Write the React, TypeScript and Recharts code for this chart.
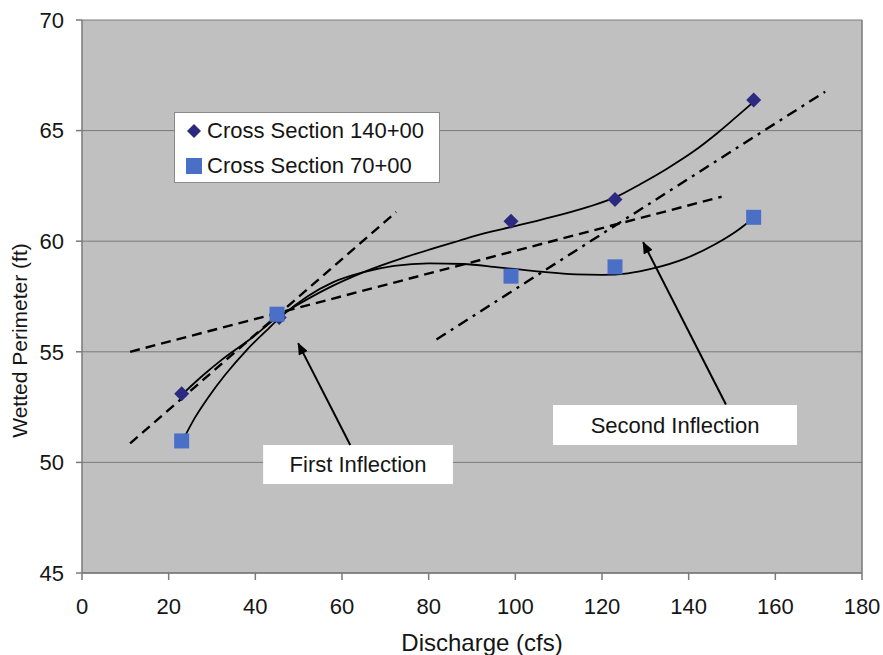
import React from 'react';
import {
  ComposedChart,
  XAxis,
  YAxis,
  CartesianGrid,
  Scatter,
  Line,
  ReferenceArea,
  ReferenceLine,
  Legend,
  Label,
} from 'recharts';

const FONT = '"Liberation Sans", Arial, Helvetica, sans-serif';

// ---- tick labels ----
const xTicks = [0, 20, 40, 60, 80, 100, 120, 140, 160, 180];
const yTicks = [45, 50, 55, 60, 65, 70];

// ---- series names ----
const name140 = 'Cross Section 140+00';
const name70 = 'Cross Section 70+00';

// ---- measured points ----
const section140 = [
  { x: 23, y: 53.1 },
  { x: 45.5, y: 56.55 },
  { x: 99, y: 60.9 },
  { x: 123, y: 61.88 },
  { x: 155, y: 66.38 },
];
const section70 = [
  { x: 23, y: 50.97 },
  { x: 45, y: 56.7 },
  { x: 99, y: 58.42 },
  { x: 123, y: 58.84 },
  { x: 155, y: 61.08 },
];

// ---- trend curves ----
const trend140 = [
  { x: 23.8, y: 53.2 },
  { x: 28, y: 53.95 },
  { x: 32, y: 54.6 },
  { x: 39, y: 55.6 },
  { x: 45, y: 56.55 },
  { x: 50, y: 57.15 },
  { x: 56, y: 57.8 },
  { x: 65, y: 58.6 },
  { x: 75, y: 59.3 },
  { x: 87, y: 60.02 },
  { x: 93, y: 60.36 },
  { x: 99, y: 60.64 },
  { x: 105, y: 60.92 },
  { x: 111, y: 61.22 },
  { x: 117, y: 61.56 },
  { x: 123, y: 61.98 },
  { x: 129, y: 62.6 },
  { x: 135, y: 63.28 },
  { x: 141, y: 64.04 },
  { x: 147, y: 64.95 },
  { x: 151, y: 65.62 },
  { x: 155, y: 66.3 },
];
const trend70 = [
  { x: 23.4, y: 51.05 },
  { x: 26, y: 52.0 },
  { x: 29, y: 52.9 },
  { x: 33, y: 53.95 },
  { x: 38, y: 55.08 },
  { x: 42.5, y: 55.95 },
  { x: 46, y: 56.6 },
  { x: 52, y: 57.5 },
  { x: 58, y: 58.15 },
  { x: 65, y: 58.6 },
  { x: 72, y: 58.88 },
  { x: 80, y: 59.0 },
  { x: 88, y: 58.97 },
  { x: 96, y: 58.82 },
  { x: 105, y: 58.64 },
  { x: 114, y: 58.5 },
  { x: 120, y: 58.48 },
  { x: 126, y: 58.55 },
  { x: 132, y: 58.78 },
  { x: 139, y: 59.2 },
  { x: 146, y: 59.85 },
  { x: 151, y: 60.45 },
  { x: 155, y: 61.05 },
];

// ---- tangent lines ----
const tangentSteep = [
  { x: 11.1, y: 50.86 },
  { x: 72.5, y: 61.32 },
];
const tangentShallow = [
  { x: 11.1, y: 55.0 },
  { x: 147.6, y: 62.01 },
];
const tangentSecond = [
  { x: 81.8, y: 55.56 },
  { x: 171.5, y: 66.76 },
];

// ---- annotation arrows (tail -> tip) ----
const arrowFirst = [
  { x: 61.9, y: 50.79 },
  { x: 49.9, y: 55.38 },
];
const arrowSecond = [
  { x: 148.6, y: 52.62 },
  { x: 129.5, y: 59.95 },
];

// ---- annotation boxes ----
const boxFirst = { text: 'First Inflection', x1: 41.8, x2: 85.6, y1: 49.02, y2: 50.79 };
const boxSecond = { text: 'Second Inflection', x1: 108.7, x2: 165.0, y1: 50.79, y2: 52.6 };

const NAVY = '#2a2a80';
const BLUE = '#4a6fc6';
const GRID = '#7a7a7a';
const TEXT = '#151515';

function DiamondShape(props: any) {
  const { cx, cy } = props;
  if (cx == null || cy == null) return null;
  const r = 7.5;
  return (
    <path
      d={`M${cx},${cy - r}L${cx + r},${cy}L${cx},${cy + r}L${cx - r},${cy}Z`}
      fill={NAVY}
    />
  );
}

function SquareShape(props: any) {
  const { cx, cy } = props;
  if (cx == null || cy == null) return null;
  const s = 15;
  return <rect x={cx - s / 2} y={cy - s / 2} width={s} height={s} fill={BLUE} />;
}

function LegendBox() {
  const row: React.CSSProperties = {
    display: 'flex',
    alignItems: 'center',
    height: 35,
    fontSize: 22,
    color: TEXT,
    fontFamily: FONT,
    whiteSpace: 'nowrap',
  };
  return (
    <div
      style={{
        background: '#fff',
        border: '1px solid #8a8a8a',
        boxSizing: 'border-box',
        width: 266,
        height: 71,
        paddingTop: 0,
      }}
    >
      <div style={row}>
        <svg width={32} height={20} style={{ flex: 'none' }}>
          <path d="M19,3 L26,10 L19,17 L12,10 Z" fill={NAVY} />
        </svg>
        <span>{name140}</span>
      </div>
      <div style={row}>
        <svg width={32} height={20} style={{ flex: 'none' }}>
          <rect x={11} y={2} width={16} height={16} fill={BLUE} />
        </svg>
        <span>{name70}</span>
      </div>
    </div>
  );
}

function YTitle(props: any) {
  const vb = props.viewBox || { x: 0, y: 20, width: 82, height: 553 };
  const cx = vb.x + 19;
  const cy = vb.y + vb.height / 2 + 44;
  return (
    <text
      x={cx}
      y={cy}
      transform={`rotate(-90, ${cx}, ${cy})`}
      textAnchor="middle"
      dominantBaseline="central"
      fontSize={21}
      fill={TEXT}
      fontFamily={FONT}
    >
      Wetted Perimeter (ft)
    </text>
  );
}

const tickStyle = { fontSize: 22, fill: TEXT, fontFamily: FONT };

export default function App() {
  return (
    <div
      style={{
        position: 'absolute',
        left: 0,
        top: 0,
        width: 883,
        height: 655,
        background: '#fff',
        fontFamily: FONT,
      }}
    >
      <ComposedChart
        width={883}
        height={655}
        margin={{ top: 20, right: 21, bottom: 0, left: 0 }}
      >
        <defs>
          <marker
            id="arrowHead"
            viewBox="0 0 12 10"
            refX="11"
            refY="5"
            markerWidth="13"
            markerHeight="10"
            markerUnits="userSpaceOnUse"
            orient="auto"
          >
            <path d="M0,0 L12,5 L0,10 Z" fill="#000" />
          </marker>
        </defs>
        <CartesianGrid
          vertical={false}
          fill="#c0c0c0"
          fillOpacity={1}
          stroke={GRID}
          strokeWidth={1}
        />
        <XAxis
          type="number"
          dataKey="x"
          domain={[0, 180]}
          ticks={xTicks}
          interval={0}
          allowDataOverflow
          height={82}
          tickSize={7}
          tickMargin={18}
          axisLine={{ stroke: GRID, strokeWidth: 1.5 }}
          tickLine={{ stroke: GRID, strokeWidth: 1.5 }}
          tick={tickStyle}
        >
          <Label
            value="Discharge (cfs)"
            position="insideBottom"
            offset={4}
            dx={10}
            fontSize={24}
            fill={TEXT}
            fontFamily={FONT}
          />
        </XAxis>
        <YAxis
          type="number"
          dataKey="y"
          domain={[45, 70]}
          ticks={yTicks}
          interval={0}
          allowDataOverflow
          width={82}
          tickSize={6}
          tickMargin={12}
          axisLine={{ stroke: GRID, strokeWidth: 1.5 }}
          tickLine={{ stroke: GRID, strokeWidth: 1.5 }}
          tick={tickStyle}
          label={{ content: (p: any) => <YTitle {...p} /> }}
        />
        <ReferenceLine x={180} stroke={GRID} strokeWidth={1.5} />

        <ReferenceArea
          x1={boxFirst.x1}
          x2={boxFirst.x2}
          y1={boxFirst.y1}
          y2={boxFirst.y2}
          fill="#ffffff"
          fillOpacity={1}
          stroke="none"
          label={{ value: boxFirst.text, position: 'center', fontSize: 22, fill: TEXT, fontFamily: FONT }}
        />
        <ReferenceArea
          x1={boxSecond.x1}
          x2={boxSecond.x2}
          y1={boxSecond.y1}
          y2={boxSecond.y2}
          fill="#ffffff"
          fillOpacity={1}
          stroke="none"
          label={{ value: boxSecond.text, position: 'center', fontSize: 22, fill: TEXT, fontFamily: FONT }}
        />

        <Scatter
          name={name140}
          data={section140}
          dataKey="y"
          shape={<DiamondShape />}
          isAnimationActive={false}
          legendType="none"
        />
        <Scatter
          name={name70}
          data={section70}
          dataKey="y"
          shape={<SquareShape />}
          isAnimationActive={false}
          legendType="none"
        />

        <Line
          data={trend140}
          dataKey="y"
          type="monotone"
          stroke="#000"
          strokeWidth={1.8}
          dot={false}
          activeDot={false}
          isAnimationActive={false}
          legendType="none"
        />
        <Line
          data={trend70}
          dataKey="y"
          type="monotone"
          stroke="#000"
          strokeWidth={1.8}
          dot={false}
          activeDot={false}
          isAnimationActive={false}
          legendType="none"
        />
        <Line
          data={tangentSteep}
          dataKey="y"
          type="linear"
          stroke="#000"
          strokeWidth={2.4}
          strokeDasharray="10 6"
          dot={false}
          activeDot={false}
          isAnimationActive={false}
          legendType="none"
        />
        <Line
          data={tangentShallow}
          dataKey="y"
          type="linear"
          stroke="#000"
          strokeWidth={2.4}
          strokeDasharray="10 6"
          dot={false}
          activeDot={false}
          isAnimationActive={false}
          legendType="none"
        />
        <Line
          data={tangentSecond}
          dataKey="y"
          type="linear"
          stroke="#000"
          strokeWidth={2.4}
          strokeDasharray="11 6 3 6"
          dot={false}
          activeDot={false}
          isAnimationActive={false}
          legendType="none"
        />
        <Line
          data={arrowFirst}
          dataKey="y"
          type="linear"
          stroke="#000"
          strokeWidth={2}
          markerEnd="url(#arrowHead)"
          dot={false}
          activeDot={false}
          isAnimationActive={false}
          legendType="none"
        />
        <Line
          data={arrowSecond}
          dataKey="y"
          type="linear"
          stroke="#000"
          strokeWidth={2}
          markerEnd="url(#arrowHead)"
          dot={false}
          activeDot={false}
          isAnimationActive={false}
          legendType="none"
        />

        <Legend
          layout="vertical"
          align="center"
          verticalAlign="middle"
          content={() => <LegendBox />}
          wrapperStyle={{ left: 174, top: 112, width: 266, height: 71 }}
        />
      </ComposedChart>
    </div>
  );
}
